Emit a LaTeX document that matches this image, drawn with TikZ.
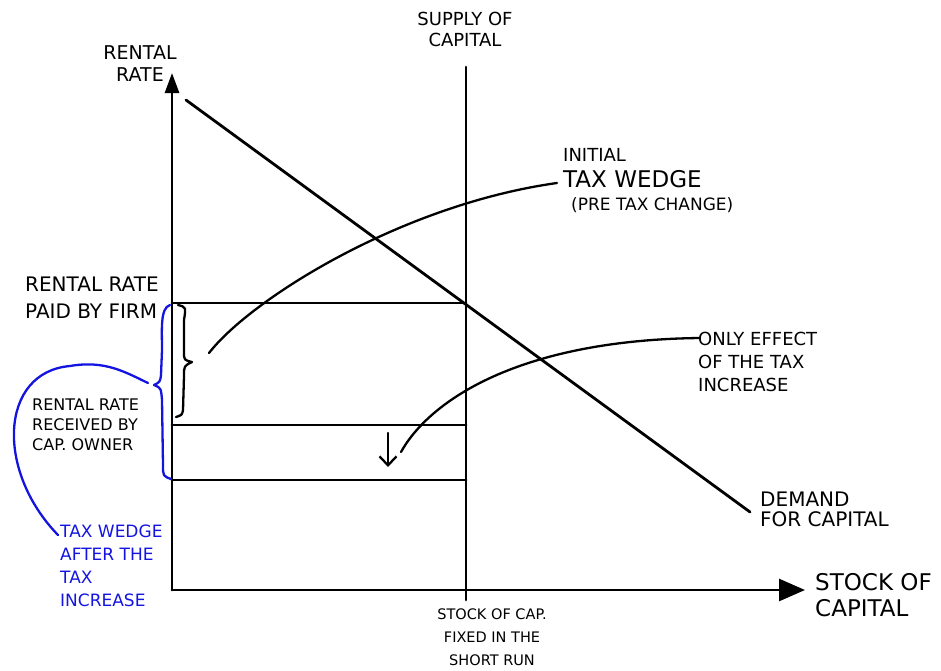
\documentclass[tikz,border=0pt]{standalone}
\usepackage{fontspec}
\setmainfont{DejaVu Sans}
\usetikzlibrary{arrows.meta}
\definecolor{penblue}{RGB}{20,20,225}
\tikzset{
  ink/.style={line width=2.8pt, line cap=round, line join=round},
  blueink/.style={line width=2.3pt, penblue, line cap=round, line join=round},
  note/.style={inner sep=0pt, align=left},
  fs/.style 2 args={font=\fontsize{#1}{#2}\selectfont},
}
\begin{document}
\begin{tikzpicture}[x=1pt,y=-1pt]
        \useasboundingbox (0,0) rectangle (941,670);
        % axes and curves
        \coordinate (O) at (172,590);
        \coordinate (Ytop) at (172,73);
        \coordinate (Xend) at (805,590);
        \coordinate (Stop) at (466,67);
        \coordinate (Sbot) at (466,600);
        \coordinate (Dtop) at (186,100);
        \coordinate (Dbot) at (750,512);
        \coordinate (Pfirm) at (172,303);
        \coordinate (Pown) at (172,425);
        \coordinate (Pnew) at (172,480);
        \draw[ink,-{Triangle[length=20pt,width=14pt]}] (O) -- (Ytop);
        \draw[ink,-{Triangle[length=26pt,width=22pt]}] (O) -- (Xend);
        \draw[ink] (Sbot) -- (Stop);
        \draw[ink] (Dtop) -- (Dbot);
        \draw[ink] (Pfirm) -- (Pfirm -| Stop);
        \draw[ink] (Pown) -- (Pown -| Stop);
        \draw[ink] (Pnew) -- (Pnew -| Stop);
        % braces
        \draw[ink,line width=2.3pt] (178,305) .. controls (186,307) .. (184,320) -- (184,352)
              .. controls (184,360) .. (192,362) .. controls (184,366) .. (184,376)
              -- (183,410) .. controls (182,415) .. (176,417);
        \draw[blueink] (170,305) .. controls (160,308) and (162,330) .. (162,350) -- (161,375)
              .. controls (160,382) .. (154,385) .. controls (161,388) .. (162,400)
              -- (163,465) .. controls (163,476) .. (171,479);
        % pointers
        \coordinate (Wtip) at (209,353);
        \coordinate (Wend) at (557,183);
        \coordinate (Etip) at (401,452);
        \coordinate (Eend) at (700,338);
        \coordinate (Btip) at (148,383);
        \coordinate (Bend) at (58,535);
        \draw[ink,line width=2.3pt] (Wtip) .. controls (250,300) and (400,205) .. (Wend);
        \draw[ink,line width=2.3pt] (Etip) .. controls (430,400) and (520,340) .. (Eend);
        \draw[blueink] (Btip) .. controls (125,372) and (105,360) .. (70,366)
              .. controls (0,372) and (-5,470) .. (Bend);
        \coordinate (Atop) at (388,433);
        \coordinate (Abot) at (388,467);
        \draw[ink,line width=2.3pt,-{Straight Barb[length=9pt,width=17pt]}] (Atop) -- (Abot);
        % labels
        \node[note,fs={19}{22},align=center] (rate) at (140,64) {RENTAL\\RATE};
        \node[note,fs={18}{21},align=center] (supply) at (465,29) {SUPPLY OF\\CAPITAL};
        \node[note,fs={23}{26},anchor=west] (initial) at (563,181)
              {{\fontsize{18}{26}\selectfont INITIAL}\\
               TAX WEDGE\\[-3pt]
               \hspace*{8pt}{\fontsize{17}{26}\selectfont (PRE TAX CHANGE)}};
        \node[note,fs={18}{23},anchor=west] (effect) at (698,362) {ONLY EFFECT\\OF THE TAX\\INCREASE};
        \node[note,fs={20}{20},anchor=west] (demand) at (760,509) {DEMAND\\FOR CAPITAL};
        \node[note,fs={23}{26},anchor=west] (stock) at (815,595) {STOCK OF\\CAPITAL};
        \node[note,fs={14.5}{23},align=center] (fixed) at (492,637) {STOCK OF CAP.\\FIXED IN THE\\SHORT RUN};
        \node[note,fs={20}{27},anchor=west] (paid) at (25,298) {RENTAL RATE\\PAID BY FIRM};
        \node[note,fs={16}{20},anchor=west] (received) at (32,425) {RENTAL RATE\\RECEIVED BY\\CAP. OWNER};
        \node[note,fs={17}{23},anchor=west,text=penblue] (after) at (60,566) {TAX WEDGE\\AFTER THE\\TAX\\INCREASE};
    \end{tikzpicture}
\end{document}
